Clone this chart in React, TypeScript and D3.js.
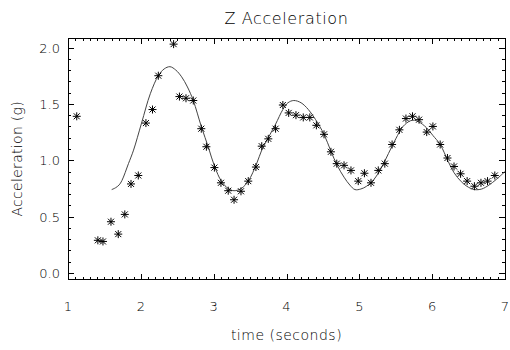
import * as d3 from 'd3'

// measured samples (time in s, acceleration in g)
const sampleTime = [
  1.12, 1.41, 1.48, 1.59, 1.69, 1.78, 1.865, 1.965, 2.07, 2.16, 2.24, 2.45, 2.53, 2.62, 2.72, 2.83,
  2.9, 3.01, 3.1, 3.2, 3.28, 3.375, 3.475, 3.58, 3.66, 3.75, 3.85, 3.95, 4.03, 4.13, 4.23, 4.32,
  4.41, 4.515, 4.61, 4.69, 4.79, 4.885, 4.985, 5.07, 5.16, 5.26, 5.35, 5.45, 5.55, 5.64, 5.73,
  5.82, 5.925, 6.01, 6.11, 6.21, 6.3, 6.39, 6.48, 6.58, 6.67, 6.76, 6.86,
]
const sampleAccel = [
  1.39, 0.29, 0.28, 0.455, 0.345, 0.52, 0.79, 0.865, 1.33, 1.45, 1.75, 2.03, 1.565, 1.55, 1.53, 1.28,
  1.12, 0.935, 0.8, 0.73, 0.65, 0.725, 0.815, 0.94, 1.125, 1.19, 1.28, 1.49, 1.42, 1.4, 1.38, 1.38,
  1.31, 1.23, 1.075, 0.97, 0.955, 0.91, 0.815, 0.885, 0.8, 0.91, 0.97, 1.14, 1.27, 1.37, 1.39,
  1.36, 1.25, 1.3, 1.14, 1.02, 0.945, 0.88, 0.815, 0.77, 0.8, 0.815, 0.865,
]

// fitted curve
const fitTime = [
  1.6, 1.65, 1.7, 1.74, 1.83, 1.9, 2.01, 2.13, 2.24, 2.32, 2.4, 2.48, 2.56, 2.64, 2.72, 2.83, 2.93,
  3.01, 3.11, 3.2, 3.28, 3.38, 3.475, 3.59, 3.66, 3.75, 3.85, 3.95, 4.02, 4.1, 4.2, 4.3, 4.4, 4.515,
  4.61, 4.7, 4.79, 4.87, 4.94, 5.02, 5.1, 5.2, 5.3, 5.4, 5.5, 5.6, 5.7, 5.76, 5.82, 5.92, 6.01, 6.11,
  6.22, 6.3, 6.4, 6.5, 6.58, 6.68, 6.78, 6.88, 7.0,
]
const fitAccel = [
  0.74, 0.755, 0.78, 0.82, 0.97, 1.09, 1.33, 1.59, 1.75, 1.81, 1.83, 1.8, 1.74, 1.65, 1.53, 1.3, 1.11,
  0.95, 0.81, 0.75, 0.73, 0.75, 0.815, 0.97, 1.09, 1.2, 1.32, 1.45, 1.51, 1.53, 1.51, 1.45, 1.36, 1.23,
  1.08, 0.95, 0.85, 0.78, 0.74, 0.745, 0.77, 0.83, 0.93, 1.06, 1.19, 1.3, 1.35, 1.355, 1.34, 1.29, 1.22,
  1.14, 0.99, 0.89, 0.81, 0.76, 0.74, 0.745, 0.78, 0.83, 0.9,
]

const xTicks = [1, 2, 3, 4, 5, 6, 7]
const yTicks = [0, 0.5, 1, 1.5, 2]

const title = 'Z Acceleration'
const xLabel = 'time (seconds)'
const yLabel = 'Acceleration (g)'

const width = 510
const height = 350
const left = 68
const right = 505
const top = 38.5
const bottom = 279

const font = '"DejaVu Sans", sans-serif'

export default function App() {
  const x = d3.scaleLinear().domain([1, 7]).range([left, right])
  const y = d3.scaleLinear().domain([-0.053, 2.08]).range([bottom, top])

  const xMinor = d3.range(10, 71).map((d) => d / 10)
  const yMinor = d3.range(0, 21).map((d) => d / 10)

  const line = d3
    .line<number>()
    .x((_, i) => x(fitTime[i]))
    .y((d) => y(d))
    .curve(d3.curveCatmullRom.alpha(0.5))

  const star = (r: number) =>
    `M${-r},0L${r},0M0,${-r}L0,${r}` +
    `M${-r * 0.75},${-r * 0.75}L${r * 0.75},${r * 0.75}M${-r * 0.75},${r * 0.75}L${r * 0.75},${-r * 0.75}`

  const isMajor = (v: number, step: number) => Math.abs(v / step - Math.round(v / step)) < 1e-6

  return (
    <svg
      width={width}
      height={height}
      style={{ position: 'absolute', left: 0, top: 0, background: '#fff' }}
    >
      <rect x={0} y={0} width={width} height={height} fill="#fff" />

      {/* box */}
      <rect
        x={left}
        y={top}
        width={right - left}
        height={bottom - top}
        fill="none"
        stroke="#000"
        strokeWidth={1}
        shapeRendering="crispEdges"
      />

      {/* ticks on all four sides */}
      <g stroke="#000" strokeWidth={1} shapeRendering="crispEdges">
        {xMinor.map((t) => {
          const len = isMajor(t, 1) ? 5 : 2.5
          const px = Math.round(x(t)) + 0.5
          return (
            <g key={`xt${t}`}>
              <line x1={px} x2={px} y1={bottom} y2={bottom - len} />
              <line x1={px} x2={px} y1={top} y2={top + len} />
            </g>
          )
        })}
        {yMinor.map((v) => {
          const len = isMajor(v, 0.5) ? 6 : 3
          const py = Math.round(y(v)) + 0.5
          return (
            <g key={`yt${v}`}>
              <line x1={left} x2={left + len} y1={py} y2={py} />
              <line x1={right} x2={right - len} y1={py} y2={py} />
            </g>
          )
        })}
      </g>

      {/* tick labels */}
      <g fontFamily={font} fontWeight={200} fontSize={13} fill="#000">
        {xTicks.map((t) => (
          <text key={`xl${t}`} x={x(t)} y={311} textAnchor="middle">
            {t}
          </text>
        ))}
        {yTicks.map((v) => (
          <text key={`yl${v}`} x={60} y={y(v) + 5} textAnchor="end">
            {v.toFixed(1)}
          </text>
        ))}
      </g>

      {/* fit line */}
      <path d={line(fitAccel) || ''} fill="none" stroke="#444" strokeWidth={1} />

      {/* samples */}
      <g stroke="#000" strokeWidth={1} fill="none">
        {sampleAccel.map((v, i) => (
          <path
            key={`s${i}`}
            d={star(4)}
            transform={`translate(${x(sampleTime[i])},${y(v)})`}
          />
        ))}
      </g>

      {/* titles */}
      <text
        x={(left + right) / 2}
        y={24}
        textAnchor="middle"
        fontFamily={font}
        fontWeight={200}
        fontSize={16}
        letterSpacing={0.6}
        fill="#000"
      >
        {title}
      </text>
      <text
        x={(left + right) / 2}
        y={340}
        textAnchor="middle"
        fontFamily={font}
        fontWeight={200}
        fontSize={14}
        letterSpacing={0.5}
        fill="#000"
      >
        {xLabel}
      </text>
      <text
        transform={`translate(22,${(top + bottom) / 2}) rotate(-90)`}
        textAnchor="middle"
        fontFamily={font}
        fontWeight={200}
        fontSize={14}
        letterSpacing={0.3}
        fill="#000"
      >
        {yLabel}
      </text>
    </svg>
  )
}
